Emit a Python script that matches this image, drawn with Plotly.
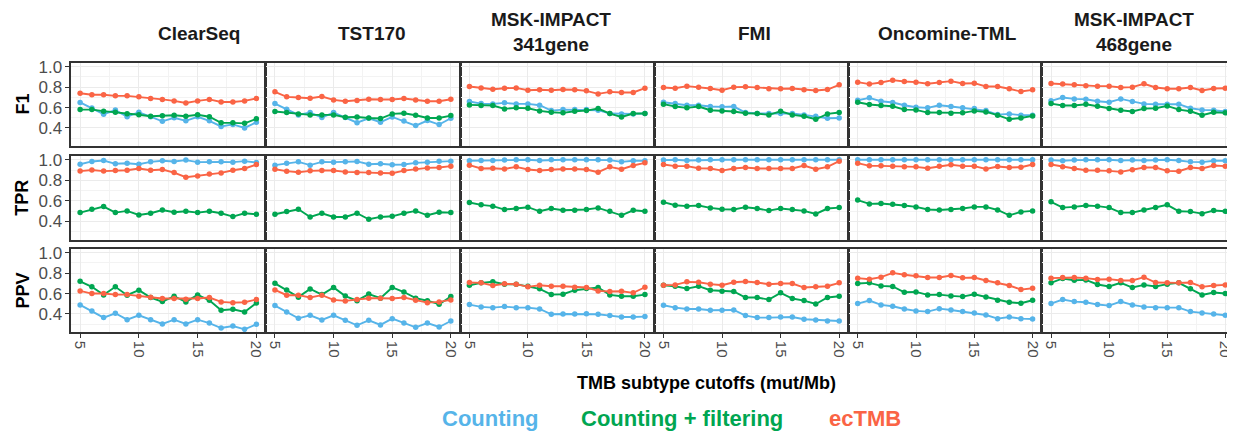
import plotly.graph_objects as go

# ---------------- data ----------------
cutoffs = list(range(5, 21))
panel_labels = ["ClearSeq", "TST170", "MSK-IMPACT<br>341gene", "FMI", "Oncomine-TML", "MSK-IMPACT<br>468gene"]
metric_labels = ["F1", "TPR", "PPV"]
method_labels = ["Counting", "Counting + filtering", "ecTMB"]
y_ticks = [0.4, 0.6, 0.8, 1.0]
x_ticks = [5, 10, 15, 20]

# ClearSeq
clearseq_f1_count = [0.65, 0.595, 0.535, 0.575, 0.51, 0.555, 0.51, 0.465, 0.50, 0.47, 0.51, 0.47, 0.415, 0.435, 0.40, 0.455]
clearseq_f1_filt = [0.58, 0.58, 0.565, 0.555, 0.54, 0.53, 0.515, 0.52, 0.525, 0.515, 0.53, 0.51, 0.45, 0.45, 0.445, 0.49]
clearseq_f1_ec = [0.74, 0.725, 0.725, 0.715, 0.715, 0.705, 0.69, 0.68, 0.665, 0.645, 0.665, 0.68, 0.655, 0.655, 0.665, 0.69]
clearseq_tpr_count = [0.957, 0.984, 0.993, 0.961, 0.967, 0.957, 0.98, 0.99, 0.984, 0.997, 0.977, 0.98, 0.98, 0.977, 0.987, 0.974]
clearseq_tpr_filt = [0.485, 0.518, 0.544, 0.485, 0.502, 0.462, 0.479, 0.511, 0.489, 0.498, 0.485, 0.498, 0.479, 0.446, 0.479, 0.469]
clearseq_tpr_ec = [0.89, 0.90, 0.89, 0.895, 0.898, 0.915, 0.898, 0.905, 0.875, 0.83, 0.843, 0.862, 0.872, 0.898, 0.915, 0.954]
clearseq_ppv_count = [0.489, 0.43, 0.364, 0.407, 0.344, 0.387, 0.344, 0.302, 0.344, 0.302, 0.344, 0.311, 0.262, 0.282, 0.249, 0.298]
clearseq_ppv_filt = [0.72, 0.666, 0.587, 0.666, 0.584, 0.633, 0.561, 0.521, 0.574, 0.518, 0.587, 0.534, 0.436, 0.446, 0.42, 0.508]
clearseq_ppv_ec = [0.626, 0.60, 0.60, 0.59, 0.59, 0.574, 0.564, 0.551, 0.551, 0.544, 0.551, 0.561, 0.518, 0.511, 0.515, 0.541]

# TST170
tst170_f1_count = [0.639, 0.584, 0.528, 0.551, 0.502, 0.551, 0.502, 0.452, 0.495, 0.456, 0.508, 0.469, 0.423, 0.472, 0.433, 0.495]
tst170_f1_filt = [0.561, 0.551, 0.538, 0.528, 0.528, 0.528, 0.505, 0.508, 0.498, 0.492, 0.538, 0.544, 0.525, 0.498, 0.498, 0.521]
tst170_f1_ec = [0.754, 0.705, 0.698, 0.692, 0.708, 0.675, 0.662, 0.669, 0.682, 0.679, 0.679, 0.689, 0.675, 0.662, 0.662, 0.682]
tst170_tpr_count = [0.948, 0.967, 0.98, 0.948, 0.98, 0.977, 0.98, 0.984, 0.957, 0.961, 0.951, 0.954, 0.97, 0.977, 0.987, 0.987]
tst170_tpr_filt = [0.469, 0.495, 0.518, 0.443, 0.479, 0.443, 0.443, 0.479, 0.42, 0.443, 0.449, 0.479, 0.502, 0.459, 0.489, 0.485]
tst170_tpr_ec = [0.908, 0.889, 0.879, 0.892, 0.895, 0.895, 0.882, 0.875, 0.875, 0.872, 0.869, 0.895, 0.911, 0.921, 0.925, 0.938]
tst170_ppv_count = [0.482, 0.42, 0.357, 0.387, 0.341, 0.387, 0.338, 0.289, 0.338, 0.292, 0.354, 0.311, 0.269, 0.311, 0.272, 0.331]
tst170_ppv_filt = [0.70, 0.635, 0.565, 0.645, 0.59, 0.66, 0.575, 0.53, 0.595, 0.555, 0.66, 0.615, 0.555, 0.53, 0.495, 0.57]
tst170_ppv_ec = [0.636, 0.584, 0.584, 0.561, 0.584, 0.538, 0.528, 0.541, 0.554, 0.554, 0.551, 0.561, 0.534, 0.511, 0.518, 0.538]

# MSK-IMPACT 341gene
msk341_f1_count = [0.659, 0.639, 0.636, 0.646, 0.636, 0.636, 0.623, 0.57, 0.58, 0.58, 0.58, 0.574, 0.541, 0.538, 0.538, 0.541]
msk341_f1_filt = [0.626, 0.62, 0.62, 0.587, 0.597, 0.593, 0.567, 0.554, 0.548, 0.564, 0.57, 0.59, 0.541, 0.508, 0.541, 0.541]
msk341_f1_ec = [0.807, 0.793, 0.78, 0.79, 0.793, 0.77, 0.774, 0.77, 0.777, 0.774, 0.764, 0.734, 0.754, 0.748, 0.748, 0.79]
msk341_tpr_count = [0.99, 0.993, 0.993, 0.997, 1.0, 1.0, 0.993, 1.0, 1.0, 1.0, 1.0, 1.0, 0.997, 0.98, 0.99, 0.99]
msk341_tpr_filt = [0.584, 0.561, 0.548, 0.515, 0.525, 0.538, 0.498, 0.525, 0.508, 0.508, 0.515, 0.531, 0.498, 0.459, 0.508, 0.498]
msk341_tpr_ec = [0.948, 0.915, 0.918, 0.911, 0.931, 0.905, 0.895, 0.905, 0.911, 0.911, 0.905, 0.879, 0.931, 0.908, 0.944, 0.97]
msk341_ppv_count = [0.492, 0.469, 0.462, 0.472, 0.462, 0.462, 0.449, 0.397, 0.4, 0.4, 0.403, 0.397, 0.384, 0.37, 0.37, 0.374]
msk341_ppv_filt = [0.682, 0.705, 0.715, 0.692, 0.692, 0.672, 0.646, 0.59, 0.593, 0.633, 0.649, 0.659, 0.587, 0.574, 0.574, 0.59]
msk341_ppv_ec = [0.708, 0.705, 0.679, 0.695, 0.692, 0.666, 0.682, 0.672, 0.672, 0.662, 0.659, 0.626, 0.62, 0.623, 0.607, 0.662]

# FMI
fmi_f1_count = [0.652, 0.639, 0.623, 0.623, 0.61, 0.607, 0.61, 0.551, 0.541, 0.541, 0.541, 0.541, 0.528, 0.515, 0.495, 0.498]
fmi_f1_filt = [0.633, 0.61, 0.597, 0.61, 0.574, 0.567, 0.561, 0.544, 0.541, 0.528, 0.564, 0.528, 0.515, 0.485, 0.538, 0.551]
fmi_f1_ec = [0.797, 0.79, 0.81, 0.80, 0.787, 0.77, 0.80, 0.803, 0.797, 0.784, 0.784, 0.787, 0.774, 0.767, 0.777, 0.823]
fmi_tpr_count = [0.997, 1.0, 0.993, 0.997, 1.0, 1.0, 1.0, 1.0, 1.0, 1.0, 1.0, 1.0, 1.0, 1.0, 1.0, 1.0]
fmi_tpr_filt = [0.587, 0.557, 0.548, 0.554, 0.531, 0.518, 0.515, 0.538, 0.525, 0.505, 0.525, 0.515, 0.502, 0.472, 0.525, 0.534]
fmi_tpr_ec = [0.954, 0.938, 0.938, 0.918, 0.915, 0.895, 0.915, 0.925, 0.915, 0.915, 0.915, 0.915, 0.944, 0.908, 0.931, 0.987]
fmi_ppv_count = [0.485, 0.462, 0.449, 0.449, 0.436, 0.436, 0.439, 0.384, 0.364, 0.364, 0.37, 0.37, 0.348, 0.341, 0.331, 0.331]
fmi_ppv_filt = [0.682, 0.672, 0.649, 0.672, 0.633, 0.623, 0.62, 0.561, 0.561, 0.541, 0.607, 0.551, 0.531, 0.498, 0.561, 0.574]
fmi_ppv_ec = [0.682, 0.685, 0.715, 0.711, 0.692, 0.682, 0.711, 0.718, 0.708, 0.692, 0.698, 0.698, 0.659, 0.666, 0.672, 0.705]

# Oncomine-TML
oncomine_f1_count = [0.672, 0.695, 0.662, 0.649, 0.623, 0.603, 0.597, 0.623, 0.61, 0.597, 0.59, 0.57, 0.531, 0.538, 0.525, 0.525]
oncomine_f1_filt = [0.652, 0.63, 0.62, 0.613, 0.58, 0.577, 0.551, 0.551, 0.544, 0.548, 0.567, 0.557, 0.525, 0.485, 0.498, 0.518]
oncomine_f1_ec = [0.849, 0.83, 0.846, 0.869, 0.856, 0.849, 0.833, 0.846, 0.859, 0.836, 0.839, 0.807, 0.807, 0.784, 0.757, 0.774]
oncomine_tpr_count = [1.0, 1.0, 1.0, 1.0, 1.0, 1.0, 1.0, 1.0, 1.0, 1.0, 1.0, 1.0, 1.0, 1.0, 1.0, 1.0]
oncomine_tpr_filt = [0.607, 0.57, 0.574, 0.567, 0.554, 0.541, 0.515, 0.511, 0.515, 0.525, 0.541, 0.541, 0.511, 0.459, 0.492, 0.502]
oncomine_tpr_ec = [0.967, 0.941, 0.941, 0.938, 0.931, 0.931, 0.918, 0.938, 0.951, 0.938, 0.938, 0.911, 0.934, 0.925, 0.928, 0.954]
oncomine_ppv_count = [0.502, 0.531, 0.489, 0.475, 0.449, 0.43, 0.423, 0.452, 0.439, 0.423, 0.41, 0.39, 0.354, 0.37, 0.354, 0.351]
oncomine_ppv_filt = [0.698, 0.705, 0.675, 0.669, 0.613, 0.616, 0.587, 0.59, 0.577, 0.57, 0.593, 0.567, 0.534, 0.515, 0.505, 0.534]
oncomine_ppv_ec = [0.751, 0.741, 0.761, 0.803, 0.784, 0.774, 0.757, 0.757, 0.777, 0.754, 0.757, 0.728, 0.705, 0.679, 0.639, 0.652]

# MSK-IMPACT 468gene
msk468_f1_count = [0.666, 0.698, 0.685, 0.682, 0.662, 0.652, 0.685, 0.659, 0.636, 0.633, 0.633, 0.633, 0.593, 0.577, 0.574, 0.561]
msk468_f1_filt = [0.639, 0.62, 0.62, 0.633, 0.613, 0.59, 0.574, 0.561, 0.59, 0.593, 0.616, 0.58, 0.564, 0.525, 0.554, 0.548]
msk468_f1_ec = [0.836, 0.83, 0.823, 0.813, 0.81, 0.81, 0.797, 0.80, 0.833, 0.797, 0.784, 0.784, 0.797, 0.767, 0.787, 0.79]
msk468_tpr_count = [0.997, 0.99, 0.997, 1.0, 1.0, 1.0, 0.993, 0.997, 0.993, 0.997, 1.0, 0.993, 0.98, 0.977, 0.99, 0.99]
msk468_tpr_filt = [0.59, 0.534, 0.541, 0.554, 0.548, 0.534, 0.485, 0.485, 0.511, 0.534, 0.561, 0.498, 0.495, 0.475, 0.505, 0.498]
msk468_tpr_ec = [0.954, 0.931, 0.915, 0.898, 0.898, 0.892, 0.882, 0.902, 0.925, 0.925, 0.892, 0.889, 0.925, 0.915, 0.944, 0.938]
msk468_ppv_count = [0.502, 0.541, 0.521, 0.515, 0.492, 0.482, 0.521, 0.489, 0.469, 0.462, 0.462, 0.462, 0.423, 0.41, 0.40, 0.387]
msk468_ppv_filt = [0.705, 0.748, 0.731, 0.734, 0.689, 0.669, 0.705, 0.659, 0.685, 0.669, 0.692, 0.705, 0.646, 0.587, 0.61, 0.60]
msk468_ppv_ec = [0.751, 0.757, 0.757, 0.751, 0.738, 0.741, 0.728, 0.728, 0.761, 0.708, 0.705, 0.705, 0.708, 0.666, 0.679, 0.685]

# ---------------- assemble ----------------
grid = [
    [  # F1
        [clearseq_f1_count, clearseq_f1_filt, clearseq_f1_ec],
        [tst170_f1_count, tst170_f1_filt, tst170_f1_ec],
        [msk341_f1_count, msk341_f1_filt, msk341_f1_ec],
        [fmi_f1_count, fmi_f1_filt, fmi_f1_ec],
        [oncomine_f1_count, oncomine_f1_filt, oncomine_f1_ec],
        [msk468_f1_count, msk468_f1_filt, msk468_f1_ec],
    ],
    [  # TPR
        [clearseq_tpr_count, clearseq_tpr_filt, clearseq_tpr_ec],
        [tst170_tpr_count, tst170_tpr_filt, tst170_tpr_ec],
        [msk341_tpr_count, msk341_tpr_filt, msk341_tpr_ec],
        [fmi_tpr_count, fmi_tpr_filt, fmi_tpr_ec],
        [oncomine_tpr_count, oncomine_tpr_filt, oncomine_tpr_ec],
        [msk468_tpr_count, msk468_tpr_filt, msk468_tpr_ec],
    ],
    [  # PPV
        [clearseq_ppv_count, clearseq_ppv_filt, clearseq_ppv_ec],
        [tst170_ppv_count, tst170_ppv_filt, tst170_ppv_ec],
        [msk341_ppv_count, msk341_ppv_filt, msk341_ppv_ec],
        [fmi_ppv_count, fmi_ppv_filt, fmi_ppv_ec],
        [oncomine_ppv_count, oncomine_ppv_filt, oncomine_ppv_ec],
        [msk468_ppv_count, msk468_ppv_filt, msk468_ppv_ec],
    ],
]

colors = ["#56B4E9", "#00A651", "#FA6445"]
FONT = "Liberation Sans, Arial, Helvetica, sans-serif"

W, H = 1235, 433
ML, MR, MT, MB = 63, 7, 55, 109
PW = W - ML - MR
PH = H - MT - MB


def px(xp):
    return (xp - ML) / PW


def py(yp):
    return (H - MB - yp) / PH


col_edges = [63.3, 257.5, 452.3, 646.7, 841.3, 1035.0, 1228.0]
row_edges = [(55, 138), (148, 231.5), (241, 324)]
gap = 1.0

fig = go.Figure()

for r in range(3):
    for c in range(6):
        k = r * 6 + c + 1
        xa = "x" if k == 1 else f"x{k}"
        ya = "y" if k == 1 else f"y{k}"
        for m in range(3):
            fig.add_trace(go.Scatter(
                x=cutoffs, y=grid[r][c][m], mode="lines+markers",
                line=dict(color=colors[m], width=1.9),
                marker=dict(color=colors[m], size=5.5),
                name=method_labels[m], showlegend=False,
                xaxis=xa, yaxis=ya,
            ))
        x0 = px(col_edges[c] + (gap if c > 0 else 0))
        x1 = px(col_edges[c + 1])
        y0 = py(row_edges[r][1])
        y1 = py(row_edges[r][0])
        xkey = "xaxis" if k == 1 else f"xaxis{k}"
        ykey = "yaxis" if k == 1 else f"yaxis{k}"
        fig.layout[xkey] = dict(
            domain=[x0, x1], anchor=ya, range=[4.25, 20.75],
            tickvals=x_ticks, ticktext=[str(v) for v in x_ticks],
            showticklabels=(r == 2), tickangle=90,
            ticks="outside" if r == 2 else "", ticklen=4, tickwidth=1, tickcolor="#333333",
            tickfont=dict(family=FONT, size=15, color="#4D4D4D"),
            showgrid=True, gridcolor="#EBEBEB", gridwidth=1.1,
            minor=dict(tickvals=[7.5, 12.5, 17.5], showgrid=True, gridcolor="#F3F3F3", gridwidth=0.6, ticks=""),
            showline=True, mirror=True, linecolor="#333333", linewidth=1.6,
            zeroline=False,
        )
        fig.layout[ykey] = dict(
            domain=[y0, y1], anchor=xa, range=[0.223, 1.037],
            tickvals=y_ticks, ticktext=[f"{v:.1f}" for v in y_ticks],
            showticklabels=(c == 0),
            ticks="outside" if c == 0 else "", ticklen=4, tickwidth=1, tickcolor="#333333",
            tickfont=dict(family=FONT, size=17, color="#4D4D4D"),
            showgrid=True, gridcolor="#EBEBEB", gridwidth=1.1,
            minor=dict(tickvals=[0.3, 0.5, 0.7, 0.9], showgrid=True, gridcolor="#F3F3F3", gridwidth=0.6, ticks=""),
            showline=True, mirror=True, linecolor="#333333", linewidth=1.6,
            zeroline=False,
        )

annotations = []
# strip labels (column headers)
strip_x = [191, 365, 544, 748, 941, 1128]
for c, lab in enumerate(panel_labels):
    two = "<br>" in lab
    annotations.append(dict(
        x=px(strip_x[c]), y=py(24.5 if two else 25), xref="paper", yref="paper",
        text=f"<b>{lab}</b>", showarrow=False, xanchor="center", yanchor="middle",
        font=dict(family=FONT, size=19, color="#1A1A1A"),
    ))
# row labels
for r, lab in enumerate(metric_labels):
    yc = (row_edges[r][0] + row_edges[r][1]) / 2
    annotations.append(dict(
        x=px(14), y=py(yc), xref="paper", yref="paper", text=f"<b>{lab}</b>",
        showarrow=False, textangle=-90, xanchor="center", yanchor="middle",
        font=dict(family=FONT, size=18, color="#000000"),
    ))
# x-axis title
annotations.append(dict(
    x=px(700), y=py(375), xref="paper", yref="paper",
    text="<b>TMB subtype cutoffs (mut/Mb)</b>", showarrow=False,
    xanchor="center", yanchor="middle",
    font=dict(family=FONT, size=18, color="#000000"),
))
# legend (coloured text labels)
legend_x = [433, 572, 820]
for m, lab in enumerate(method_labels):
    annotations.append(dict(
        x=px(legend_x[m]), y=py(410), xref="paper", yref="paper",
        text=f"<b>{lab}</b>", showarrow=False, xanchor="left", yanchor="middle",
        font=dict(family=FONT, size=22, color=colors[m]),
    ))

fig.update_layout(
    width=W, height=H,
    margin=dict(l=ML, r=MR, t=MT, b=MB),
    paper_bgcolor="white", plot_bgcolor="white",
    showlegend=False,
    annotations=annotations,
)

fig.write_html("out.html")
